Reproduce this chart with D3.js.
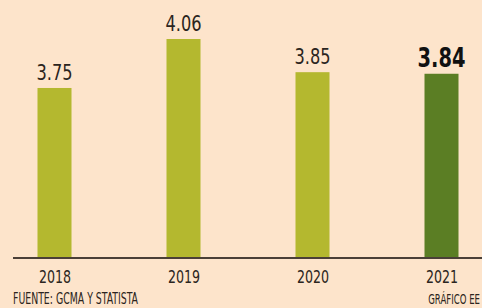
<!DOCTYPE html>
<html>
<head>
<meta charset="utf-8">
<script src="https://cdn.jsdelivr.net/npm/d3@7"></script>
<style>
html,body{margin:0;padding:0;background:#fde4cb;}
svg{display:block;}
text{font-family:"Liberation Sans Narrow","DejaVu Sans Condensed",sans-serif;fill:#2b2420;}
</style>
</head>
<body>
<div id="chart"></div>
<script>
const years = ["2018", "2019", "2020", "2021"];
const values = [3.75, 4.06, 3.85, 3.84];
const valueLabels = ["3.75", "4.06", "3.85", "3.84"];
const highlight = [false, false, false, true];
const sourceText = "FUENTE: GCMA Y STATISTA";
const creditText = "GRÁFICO EE";

const W = 482, H = 308;
const svg = d3.select("#chart").append("svg").attr("width", W).attr("height", H);
svg.append("rect").attr("width", W).attr("height", H).attr("fill", "#fde4cb");

const x = d3.scalePoint().domain(years).range([54.5, 441.5]);
const y = d3.scaleLinear().domain([2.674, 4.06]).range([258, 39]);
const barW = 34;

svg.selectAll("rect.bar").data(years).enter().append("rect")
  .attr("class", "bar")
  .attr("x", d => x(d) - barW / 2)
  .attr("y", (d, i) => y(values[i]))
  .attr("width", barW)
  .attr("height", (d, i) => y.range()[0] - y(values[i]))
  .attr("fill", (d, i) => highlight[i] ? "#5b7e24" : "#b4b82f");

svg.selectAll("text.val").data(years).enter().append("text")
  .attr("class", "val")
  .attr("transform", (d, i) => `translate(${x(d)},${y(values[i]) - (highlight[i] ? 7 : 8)}) scale(${highlight[i] ? 0.8 : 0.82},1)`)
  .attr("text-anchor", "middle")
  .attr("font-size", (d, i) => highlight[i] ? 27 : 22)
  .attr("font-weight", (d, i) => highlight[i] ? "bold" : "normal")
  .style("fill", (d, i) => highlight[i] ? "#111" : "#2b2420")
  .text((d, i) => valueLabels[i]);

// axis
const axis = d3.axisBottom(x).tickSize(0).tickPadding(12);
const g = svg.append("g").attr("transform", "translate(0,258)").call(axis);
g.select(".domain").remove();
g.selectAll("text").attr("font-size", 18)
  .attr("transform", "scale(0.78,1)")
  .style("font-family", "'Liberation Sans Narrow','DejaVu Sans Condensed',sans-serif").style("fill", "#2b2420");
g.append("line").attr("x1", 13).attr("x2", W).attr("y1", 0).attr("y2", 0)
  .attr("stroke", "#4a3f37").attr("stroke-width", 2);

svg.append("text").attr("x", 13).attr("y", 304).attr("font-size", 15)
  .attr("textLength", 125).attr("lengthAdjust", "spacingAndGlyphs")
  .text(sourceText);
svg.append("text").attr("transform", "translate(480,304) scale(0.68,1)")
  .attr("text-anchor", "end").attr("font-size", 14)
  .text(creditText);
</script>
</body>
</html>
